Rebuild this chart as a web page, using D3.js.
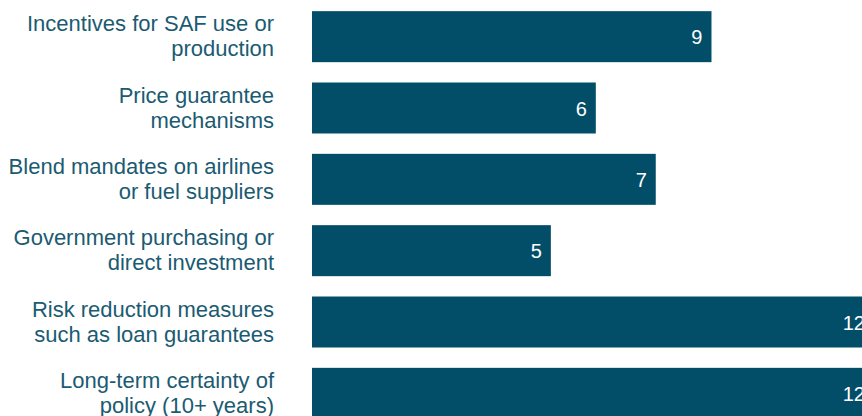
<!DOCTYPE html>
<html>
<head>
<meta charset="utf-8">
<script src="https://cdn.jsdelivr.net/npm/d3@7"></script>
<style>
  body { margin: 0; background: #fff; }
  svg { display: block; font-family: Arial, "Liberation Sans", sans-serif; }
  .cat { fill: #1b5b72; font-size: 22px; }
  .val { fill: #fff; font-size: 20px; }
</style>
</head>
<body>
<script>

// categories, one entry per bar, split where the chart wraps them
var categories = [
  ["Incentives for SAF use or", "production"],
  ["Price guarantee", "mechanisms"],
  ["Blend mandates on airlines", "or fuel suppliers"],
  ["Government purchasing or", "direct investment"],
  ["Risk reduction measures", "such as loan guarantees"],
  ["Long-term certainty of", "policy (10+ years)"]
];

// bar lengths, labels show them rounded
var values = [8.53, 6.06, 7.34, 5.10, 12, 12];

var width = 862, height = 416;

var svg = d3.select("body").append("svg")
    .attr("width", width)
    .attr("height", height);

var x = d3.scaleLinear()
    .domain([0, 12])
    .range([312, 874]);

var y = d3.scaleBand()
    .domain(d3.range(categories.length))
    .range([1, 429])
    .paddingInner(0.285)
    .paddingOuter(0.1425);

var bars = svg.append("g")
  .selectAll("g")
  .data(values)
  .enter()
  .append("g");

bars.append("rect")
    .attr("x", x(0))
    .attr("y", function(d, i) { return y(i); })
    .attr("width", function(d) { return x(d) - x(0); })
    .attr("height", y.bandwidth())
    .attr("fill", "#024e68");

bars.append("text")
    .attr("class", "val")
    .attr("x", function(d) { return x(d) - 9; })
    .attr("y", function(d, i) { return y(i) + y.bandwidth() / 2; })
    .attr("dy", "0.38em")
    .attr("text-anchor", "end")
    .text(function(d) { return d3.format(".0f")(d); });

//category labels
var labels = svg.append("g")
  .selectAll("text")
  .data(categories)
  .enter()
  .append("text")
    .attr("class", "cat")
    .attr("text-anchor", "end")
    .attr("transform", function(d, i) {
      return "translate(274," + (y(i) + y.bandwidth() / 2) + ")";
    });

labels.selectAll("tspan")
    .data(function(d) { return d; })
    .enter()
    .append("tspan")
    .attr("x", 0)
    .attr("y", function(d, j) { return j == 0 ? -5.5 : 19.5; })
    .text(function(d) { return d; });

</script>
</body>
</html>
